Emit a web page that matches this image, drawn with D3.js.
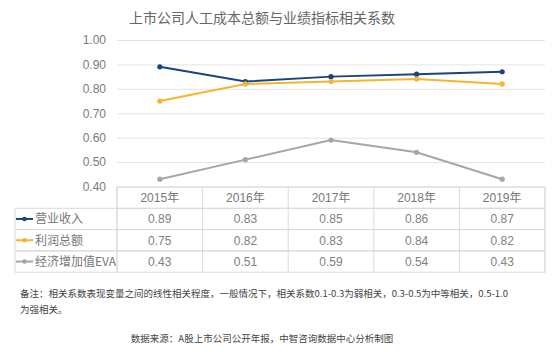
<!DOCTYPE html>
<html><head><meta charset="utf-8">
<script src="https://cdn.jsdelivr.net/npm/d3@7/dist/d3.min.js"></script>
<style>
body{margin:0;background:#fff;}
text{font-family:"Liberation Sans","Noto Sans CJK SC",sans-serif;}
</style></head>
<body><svg id="c" width="554" height="352"></svg>
<script>
const years = ["2015年","2016年","2017年","2018年","2019年"];
const seriesNames = ["营业收入","利润总额","经济增加值EVA"];
const revenue = [0.89,0.83,0.85,0.86,0.87];
const profit = [0.75,0.82,0.83,0.84,0.82];
const eva = [0.43,0.51,0.59,0.54,0.43];
const yTicks = [0.40,0.50,0.60,0.70,0.80,0.90,1.00];
const colors = ["#1a4480","#f6b531","#a6a6a6"];
const seriesValues = [revenue, profit, eva];

const svg = d3.select("#c");
const pL = 117, pR = 545, pT = 40, pB = 186.5;
const x = d3.scaleBand().domain(years).range([pL, pR]);
const y = d3.scaleLinear().domain([0.4, 1.0]).range([pB, pT]);

svg.append("text").attr("x", 262).attr("y", 23).attr("text-anchor","middle")
  .attr("font-size", 14).attr("fill","#666")
  .style("font-family",'"Noto Sans CJK SC",sans-serif')
  .text("上市公司人工成本总额与业绩指标相关系数");

const ax = svg.append("g").attr("transform",`translate(${pL},0)`)
  .call(d3.axisLeft(y).tickValues(yTicks).tickFormat(d3.format(".2f")).tickSize(-(pR-pL)).tickPadding(11));
ax.select(".domain").remove();
ax.selectAll(".tick line").attr("stroke","#e3e3e3").attr("stroke-width",1);
ax.selectAll(".tick text").attr("font-size",12).attr("fill","#7a7a7a")
  .style("font-family",'"Liberation Sans",sans-serif');

const line = d3.line().x((d,i)=>x(years[i])+x.bandwidth()/2).y(d=>y(d));
seriesValues.forEach((vals,k)=>{
  svg.append("path").datum(vals).attr("d",line).attr("fill","none")
    .attr("stroke",colors[k]).attr("stroke-width",2);
  svg.selectAll(null).data(vals).enter().append("circle")
    .attr("cx",(d,i)=>x(years[i])+x.bandwidth()/2).attr("cy",d=>y(d))
    .attr("r",2.6).attr("fill",colors[k]);
});

// table
const rowH = 21.3, tTop = 187, labelLeft = 15;
const bc = "#dadada";
const tg = svg.append("g");
tg.append("rect").attr("x",pL).attr("y",tTop).attr("width",pR-pL).attr("height",rowH)
  .attr("fill","none").attr("stroke",bc);
years.forEach(yr=>{
  tg.append("line").attr("x1",x(yr)).attr("x2",x(yr)).attr("y1",tTop).attr("y2",tTop+rowH*4).attr("stroke",bc);
  tg.append("text").attr("x",x(yr)+x.bandwidth()/2).attr("y",tTop+rowH/2+4.5)
    .attr("text-anchor","middle").attr("font-size",12).attr("fill","#777").text(yr);
});
tg.append("line").attr("x1",pR).attr("x2",pR).attr("y1",tTop).attr("y2",tTop+rowH*4).attr("stroke",bc);
seriesNames.forEach((nm,k)=>{
  const ry = tTop + rowH*(k+1);
  tg.append("rect").attr("x",labelLeft).attr("y",ry).attr("width",pR-labelLeft).attr("height",rowH)
    .attr("fill","none").attr("stroke",bc);
  const cy = ry + rowH/2;
  tg.append("line").attr("x1",16).attr("x2",33).attr("y1",cy).attr("y2",cy).attr("stroke",colors[k]).attr("stroke-width",2);
  tg.append("circle").attr("cx",24.5).attr("cy",cy).attr("r",2.3).attr("fill",colors[k]);
  tg.append("text").attr("x",35).attr("y",cy+4.3).attr("font-size",12).attr("fill","#777")
    .style("font-family",'"Noto Sans CJK SC",sans-serif').text(nm);
  seriesValues[k].forEach((v,i)=>{
    tg.append("text").attr("x",x(years[i])+x.bandwidth()/2).attr("y",cy+4.3)
      .attr("text-anchor","middle").attr("font-size",12).attr("fill","#808080").text(d3.format(".2f")(v));
  });
});
tg.append("line").attr("x1",pL).attr("x2",pL).attr("y1",tTop+rowH).attr("y2",tTop+rowH*4).attr("stroke",bc);

svg.append("text").attr("x",20).attr("y",297).attr("font-size",9.5).attr("fill","#444")
  .attr("textLength",488).attr("lengthAdjust","spacingAndGlyphs")
  .style("font-family",'"Noto Sans CJK SC",sans-serif')
  .text("备注：相关系数表现变量之间的线性相关程度，一般情况下，相关系数0.1-0.3为弱相关，0.3-0.5为中等相关，0.5-1.0");
svg.append("text").attr("x",20).attr("y",313).attr("font-size",9.5).attr("fill","#444")
  .style("font-family",'"Noto Sans CJK SC",sans-serif').text("为强相关。");
svg.append("text").attr("x",262).attr("y",342).attr("text-anchor","middle").attr("font-size",9.5).attr("fill","#444")
  .style("font-family",'"Noto Sans CJK SC",sans-serif').text("数据来源：A股上市公司公开年报，中智咨询数据中心分析制图");
</script></body></html>
